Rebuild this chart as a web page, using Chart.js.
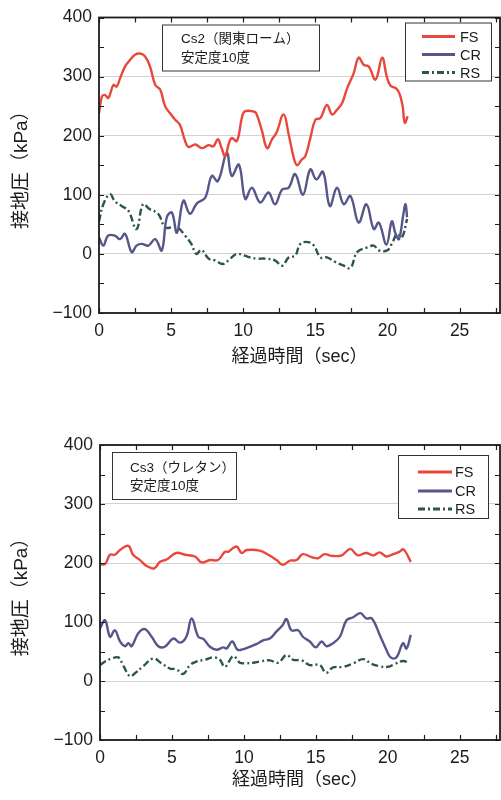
<!DOCTYPE html>
<html>
<head>
<meta charset="utf-8">
<script src="https://cdn.jsdelivr.net/npm/chart.js@4.4.1/dist/chart.umd.min.js"></script>
<style>
  html, body { margin: 0; padding: 0; background: #ffffff; }
  .panel { position: relative; width: 501px; height: 400px; }
  canvas { display: block; }
</style>
</head>
<body>
<div class="panel"><canvas id="chartCs2" width="501" height="400"></canvas></div>
<div class="panel"><canvas id="chartCs3" width="501" height="400"></canvas></div>
<script>
// Axis ticks shared by both panels
const xTickValues = [0, 5, 10, 15, 20, 25];
const yTickValues = [-100, 0, 100, 200, 300, 400];
const seriesNames = ['FS', 'CR', 'RS'];

// Cs2 (関東ローム) — time [sec] and contact pressure [kPa]
const cs2FsTime = [0, 0.2, 0.4, 0.65, 1.0, 1.22, 1.46, 1.8, 2.15, 2.5, 2.85, 3.2, 3.54, 3.9, 4.24, 4.58, 4.93, 5.28, 5.6, 5.97, 6.2, 6.67, 7.13, 7.6, 7.93, 8.24, 8.5, 8.75, 8.98, 9.2, 9.56, 9.9, 10.1, 10.7, 10.9, 11.3, 11.65, 12.0, 12.3, 12.8, 13.15, 13.5, 13.73, 14.07, 14.3, 14.65, 15.0, 15.35, 15.8, 16.16, 16.5, 16.85, 17.2, 17.66, 18.0, 18.35, 18.7, 19.17, 19.63, 19.95, 20.2, 20.6, 20.85, 21.05, 21.2, 21.4];
const cs2FsValue = [238, 266, 269, 264, 286, 283, 297, 317, 328, 337, 339, 334, 317, 286, 278, 250, 238, 227, 219, 191, 181, 185, 179, 184, 182, 194, 179, 165, 185, 196, 191, 230, 241, 241, 238, 208, 179, 194, 205, 236, 202, 163, 150, 160, 165, 196, 227, 230, 252, 236, 244, 255, 280, 306, 332, 320, 317, 295, 332, 300, 285, 280, 270, 250, 222, 233];

const cs2CrTime = [0, 0.3, 0.63, 1.1, 1.46, 1.8, 2.27, 2.6, 2.96, 3.42, 3.9, 4.35, 4.7, 5.05, 5.4, 5.85, 6.3, 6.8, 7.36, 7.82, 8.24, 8.86, 9.2, 9.7, 10.14, 10.6, 11.18, 11.75, 12.2, 12.7, 13.15, 13.6, 14.14, 14.65, 15.07, 15.53, 16.0, 16.5, 16.97, 17.43, 18.0, 18.54, 19.05, 19.4, 19.93, 20.3, 20.56, 20.8, 21.1, 21.25, 21.36];
const cs2CrValue = [28, 14, 31, 31, 25, 34, 3, 14, 17, 14, 25, 6, 62, 70, 36, 90, 68, 86, 95, 132, 123, 171, 132, 151, 93, 112, 87, 104, 84, 109, 112, 135, 100, 143, 126, 139, 81, 112, 84, 98, 53, 84, 42, 53, 16, 55, 34, 25, 67, 84, 62];

const cs2RsTime = [0, 0.3, 0.76, 1.1, 1.57, 2.04, 2.6, 3.05, 3.5, 4.1, 4.58, 5.05, 5.4, 6.0, 6.4, 6.75, 7.1, 7.6, 8.05, 8.6, 9.1, 9.56, 10.1, 10.49, 10.95, 11.5, 12.2, 12.7, 13.15, 13.6, 13.96, 14.5, 14.9, 15.35, 15.8, 16.4, 16.97, 17.43, 17.9, 18.6, 19.05, 19.4, 19.98, 20.3, 20.67, 21.0, 21.36];
const cs2RsValue = [55, 84, 101, 89, 81, 73, 42, 84, 76, 68, 45, 45, 46, 30, 17, 0, 7, -8, -11, -17, -8, 0, -3, -6, -8, -8, -11, -20, -6, -3, 17, 20, 14, -6, -6, -14, -20, -24, 3, 11, 14, 6, 6, 17, 34, 28, 59];

// Cs3 (ウレタン)
const cs3FsTime = [0, 0.35, 0.7, 1.04, 1.39, 1.97, 2.3, 2.78, 3.24, 3.77, 4.17, 4.63, 5.3, 5.9, 6.6, 7.06, 7.64, 8.2, 8.68, 8.9, 9.49, 9.84, 10.2, 11.1, 11.7, 12.27, 12.7, 13.2, 13.66, 14.1, 14.7, 15.16, 15.6, 16.1, 16.8, 17.4, 17.9, 18.5, 19.0, 19.44, 19.9, 20.37, 20.8, 21.1, 21.6];
const cs3FsValue = [198, 198, 214, 214, 222, 229, 214, 205, 195, 191, 202, 206, 217, 214, 211, 201, 205, 205, 219, 219, 228, 217, 222, 221, 214, 205, 197, 204, 205, 215, 210, 208, 215, 212, 213, 224, 213, 217, 213, 218, 211, 215, 219, 223, 202];

const cs3CrTime = [0, 0.35, 0.7, 1.04, 1.39, 1.74, 1.97, 2.2, 2.66, 3.12, 3.59, 4.05, 4.5, 5.1, 5.56, 6.0, 6.37, 6.83, 7.2, 7.64, 8.1, 8.56, 8.8, 9.19, 9.56, 9.95, 10.4, 10.9, 11.34, 11.8, 12.27, 12.7, 12.96, 13.3, 13.77, 14.1, 14.58, 15.0, 15.4, 15.74, 16.2, 16.67, 17.13, 17.6, 18.1, 18.5, 18.9, 19.44, 19.9, 20.2, 20.6, 21.06, 21.3, 21.6];
const cs3CrValue = [89, 103, 75, 86, 67, 59, 64, 59, 81, 88, 75, 59, 58, 72, 65, 75, 106, 75, 71, 58, 53, 57, 55, 67, 53, 54, 58, 63, 69, 72, 84, 95, 105, 86, 86, 75, 67, 57, 67, 59, 64, 75, 103, 108, 115, 106, 106, 78, 53, 40, 40, 64, 55, 78];

const cs3RsTime = [0, 0.35, 0.81, 1.27, 1.6, 2.08, 2.43, 3.0, 3.7, 4.28, 4.86, 5.3, 5.78, 6.25, 6.7, 7.3, 7.87, 8.33, 8.68, 9.26, 9.72, 10.07, 10.65, 11.1, 11.8, 12.38, 12.96, 13.43, 14.0, 14.58, 15.28, 15.7, 16.2, 16.9, 17.6, 18.3, 18.87, 19.44, 20.0, 20.5, 21.06, 21.5];
const cs3RsValue = [27, 33, 38, 40, 27, 8, 13, 25, 38, 30, 21, 20, 12, 27, 33, 36, 40, 36, 24, 42, 31, 30, 31, 33, 35, 31, 44, 36, 35, 27, 27, 14, 23, 24, 30, 37, 29, 25, 24, 29, 34, 30];

const LATIN = "'Liberation Sans', Arial, 'Noto Sans CJK JP', sans-serif";
const INK = '#1c1c1c';
const seriesStyle = [
  { color: '#e8483b', dash: [] },
  { color: '#56568a', dash: [] },
  { color: '#2b5650', dash: [7, 3, 2, 3] }
];

function toPoints(times, values) {
  return times.map((t, i) => ({ x: t, y: values[i] }));
}

// Frame, inward ticks, caption box and legend box
const decorPlugin = {
  id: 'decor',
  afterDraw(chart) {
    const o = chart.options.plugins.decor;
    const { ctx, chartArea: a, scales: { x, y } } = chart;
    ctx.save();
    ctx.strokeStyle = INK;
    ctx.lineWidth = 1.2;
    ctx.setLineDash([]);
    ctx.beginPath();
    for (let v = 0; v <= x.max + 1e-6; v += 2.5) {
      const px = Math.round(x.getPixelForValue(v)) + 0.5;
      ctx.moveTo(px, a.bottom); ctx.lineTo(px, a.bottom - 5);
      ctx.moveTo(px, a.top); ctx.lineTo(px, a.top + 5);
    }
    for (let v = y.min; v <= y.max + 1e-6; v += 50) {
      const py = Math.round(y.getPixelForValue(v)) + 0.5;
      ctx.moveTo(a.left, py); ctx.lineTo(a.left + 5, py);
      ctx.moveTo(a.right, py); ctx.lineTo(a.right - 5, py);
    }
    ctx.stroke();
    ctx.lineWidth = 1.8;
    ctx.strokeRect(a.left, a.top, a.right - a.left, a.bottom - a.top);

    // caption box
    const c = o.caption;
    ctx.lineWidth = 1;
    ctx.strokeStyle = '#333';
    ctx.fillStyle = '#fff';
    ctx.fillRect(a.left + c.dx, a.top + c.dy, c.w, c.h);
    ctx.strokeRect(a.left + c.dx + 0.5, a.top + c.dy + 0.5, c.w, c.h);
    ctx.fillStyle = INK;
    ctx.font = "13.5px 'Liberation Sans', 'Noto Sans CJK JP', sans-serif";
    ctx.textBaseline = 'middle';
    ctx.textAlign = 'left';
    c.lines.forEach((t, i) => ctx.fillText(t, a.left + c.tx, a.top + c.ty[i]));

    // legend box
    const l = o.legend;
    ctx.fillStyle = '#fff';
    ctx.fillRect(a.left + l.dx, a.top + l.dy, l.w, l.h);
    ctx.strokeStyle = '#333';
    ctx.strokeRect(a.left + l.dx + 0.5, a.top + l.dy + 0.5, l.w, l.h);
    ctx.font = "14.5px " + LATIN;
    chart.data.datasets.forEach((ds, i) => {
      const yy = a.top + l.rows[i];
      ctx.strokeStyle = ds.borderColor;
      ctx.lineWidth = 3;
      ctx.setLineDash(ds.borderDash || []);
      ctx.beginPath();
      ctx.moveTo(a.left + l.x0, yy);
      ctx.lineTo(a.left + l.x1, yy);
      ctx.stroke();
      ctx.setLineDash([]);
      ctx.fillStyle = INK;
      ctx.fillText(ds.label, a.left + l.tx, yy + 1);
    });
    ctx.restore();
  }
};

function makePanel(id, series, layout) {
  const datasets = series.map((s, i) => ({
    label: seriesNames[i],
    data: toPoints(s[0], s[1]),
    borderColor: seriesStyle[i].color,
    borderDash: seriesStyle[i].dash,
    borderWidth: 2.4,
    pointRadius: 0,
    fill: false,
    tension: 0.4
  }));
  return new Chart(document.getElementById(id), {
    type: 'line',
    data: { datasets },
    plugins: [decorPlugin],
    options: {
      responsive: false,
      animation: false,
      layout: { padding: { top: layout.top, right: 1, left: 0, bottom: 0 } },
      plugins: {
        legend: { display: false },
        tooltip: { enabled: false },
        decor: { caption: layout.caption, legend: layout.legend }
      },
      scales: {
        x: {
          type: 'linear',
          min: 0,
          max: 27.8,
          afterBuildTicks: s => { s.ticks = xTickValues.map(v => ({ value: v })); },
          afterFit: s => { s.height = layout.xHeight; },
          grid: { display: false, drawTicks: false },
          border: { display: false },
          ticks: { color: INK, font: { family: LATIN, size: 17.5 }, padding: 8, maxRotation: 0, autoSkip: false },
          title: {
            display: true,
            text: '経過時間（sec）',
            color: INK,
            font: { family: LATIN, size: 18 },
            padding: { top: 0, bottom: layout.xTitlePad }
          }
        },
        y: {
          type: 'linear',
          min: -100,
          max: 400,
          afterBuildTicks: s => { s.ticks = yTickValues.map(v => ({ value: v })); },
          afterFit: s => { s.width = layout.yWidth; },
          grid: { color: '#d2d2d2', lineWidth: 1, drawTicks: false },
          border: { display: false },
          ticks: {
            color: INK,
            font: { family: LATIN, size: 17.5 },
            padding: 7,
            callback: v => String(v).replace('-', '\u2212')
          },
          title: {
            display: true,
            text: '接地圧（kPa）',
            color: INK,
            font: { family: LATIN, size: 19 },
            padding: { top: 10.6, bottom: 0 }
          }
        }
      }
    }
  });
}

makePanel('chartCs2', [[cs2FsTime, cs2FsValue], [cs2CrTime, cs2CrValue], [cs2RsTime, cs2RsValue]], {
  top: 16, xHeight: 87, yWidth: 99, xTitlePad: 32,
  caption: { dx: 63, dy: 7, w: 157, h: 46, tx: 82, ty: [22, 41], lines: ['Cs2（関東ローム）', '安定度10度'] },
  legend: { dx: 306, dy: 5, w: 86, h: 58, x0: 323, x1: 356, tx: 361, rows: [19, 37, 55] }
});

makePanel('chartCs3', [[cs3FsTime, cs3FsValue], [cs3CrTime, cs3CrValue], [cs3RsTime, cs3RsValue]], {
  top: 45, xHeight: 60, yWidth: 100, xTitlePad: 9,
  caption: { dx: 12, dy: 7, w: 124, h: 47, tx: 30, ty: [23, 41], lines: ['Cs3（ウレタン）', '安定度10度'] },
  legend: { dx: 298, dy: 10, w: 90, h: 63, x0: 318, x1: 352, tx: 355, rows: [27, 46, 64] }
});
</script>
</body>
</html>
